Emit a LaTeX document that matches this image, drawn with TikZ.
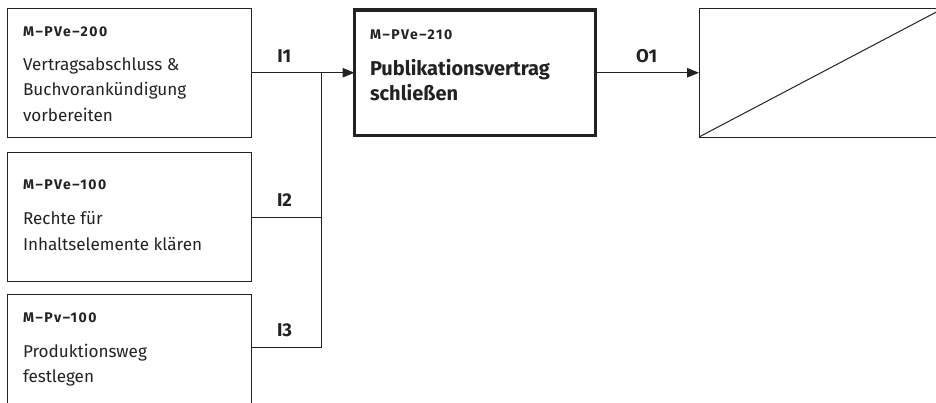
\documentclass[tikz,border=0pt]{standalone}
\usepackage{fontspec}
\setmainfont{Fira Sans}
\newfontfamily\codefont[LetterSpace=11,UprightFont=*,BoldFont=* Bold]{Fira Sans}
\usetikzlibrary{arrows.meta}
\definecolor{ink}{HTML}{222222}
\begin{document}
\begin{tikzpicture}[x=1pt,y=-1pt,
  every node/.style={inner sep=0pt, outer sep=0pt},
  box/.style={draw=ink, line width=1pt, minimum width=244pt, minimum height=128.5pt},
  mainbox/.style={draw=ink, line width=3.3pt, minimum width=241pt, minimum height=125.5pt},
  codetxt/.style={anchor=base west, text=ink, font=\codefont\bfseries\fontsize{14}{16}\selectfont},
  bodytxt/.style={anchor=base west, text=ink, font=\fontsize{17.1}{20}\selectfont},
  titletxt/.style={anchor=base west, text=ink, font=\bfseries\fontsize{20}{22}\selectfont},
  flowlbl/.style={anchor=base west, text=ink, font=\bfseries\fontsize{18.5}{20}\selectfont},
  conn/.style={draw=ink, line width=1pt},
  arr/.style={conn, -{Triangle[length=12pt,width=9.5pt]}}
]
\useasboundingbox (0,0) rectangle (936,402);
\clip (0,0) rectangle (936,402);

% boxes
\node[box] (b1) at (129,72.75) {};
\node[box] (b2) at (129,217) {};
\node[box] (b3) at (129,358.25) {};
\node[mainbox] (m) at (475,72.75) {};
\node[box] (r) at (821,72.75) {};
\draw[conn] (r.south west) -- (r.north east);

% texts box 1
\node[codetxt] (b1c) at (23,36.7) {M–PVe–200};
\node[bodytxt] (b1l1) at (23,70) {Vertragsabschluss \&};
\node[bodytxt] (b1l2) at (23,95.8) {Buchvorankündigung};
\node[bodytxt] (b1l3) at (23,121.2) {vorbereiten};

% texts box 2
\node[codetxt] (b2c) at (23,189.3) {M–PVe–100};
\node[bodytxt] (b2l1) at (23,224) {Rechte für};
\node[bodytxt] (b2l2) at (23,250) {Inhaltselemente klären};

% texts box 3
\node[codetxt] (b3c) at (23,322) {M–Pv–100};
\node[bodytxt] (b3l1) at (23,357.5) {Produktionsweg};
\node[bodytxt] (b3l2) at (23,382.8) {festlegen};

% main box
\node[codetxt] (mc) at (370,39.3) {M–PVe–210};
\node[titletxt] (ml1) at (370,75) {Publikationsvertrag};
\node[titletxt] (ml2) at (370,100.7) {schließen};

% connectors
\coordinate (j) at (321,72.75);
\draw[arr] (b1.east) -- (m.west);
\draw[conn] (b2.east) -| (j);
\draw[conn] ([yshift=-53.7pt]b3.north east) -| (j);
\draw[arr] (m.east) -- (r.west);

% labels
\node[flowlbl] (i1) at (277.3,62.7) {I1};
\node[flowlbl] (i2) at (277,206.7) {I2};
\node[flowlbl] (i3) at (277,336.7) {I3};
\node[flowlbl] (o1) at (636,62.7) {O1};
\end{tikzpicture}
\end{document}
